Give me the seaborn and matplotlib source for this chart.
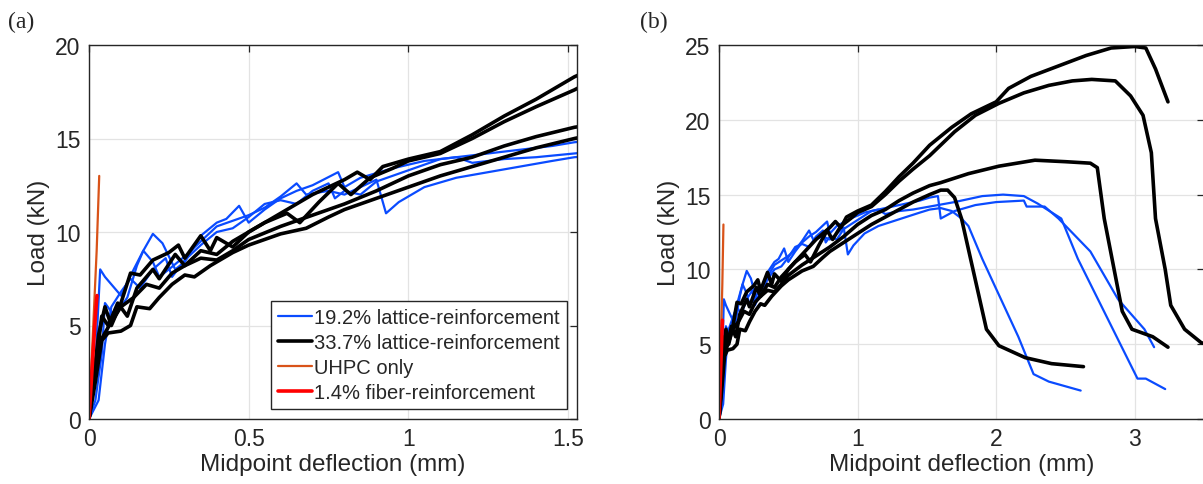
import numpy as np
import pandas as pd
import seaborn as sns
import matplotlib
matplotlib.use('Agg')
import matplotlib.pyplot as plt

# load-deflection curves (x in mm, y in kN)

# 19.2% lattice-reinforcement (3 specimens)
b1_x = [0, 0.02, 0.035, 0.05, 0.1, 0.14, 0.17, 0.2, 0.23, 0.27, 0.3, 0.35, 0.4, 0.43, 0.47, 0.5, 0.55, 0.6, 0.65, 0.7,
        0.78, 0.8, 0.85, 0.95, 1.05, 1.15, 1.25, 1.35, 1.45, 1.52, 1.58, 1.6, 1.7, 1.85, 2.0, 2.2, 2.22, 2.35, 2.45,
        2.68, 2.88, 3.07, 3.14]
b1_y = [0, 3.0, 8.0, 7.6, 6.6, 8.0, 9.0, 9.9, 9.4, 8.0, 8.4, 9.8, 10.5, 10.7, 11.4, 10.5, 11.2, 11.8, 12.2, 12.5,
        13.2, 12.4, 12.9, 13.4, 13.8, 14.0, 14.2, 14.4, 14.6, 14.8, 14.9, 13.4, 13.9, 14.3, 14.5, 14.6, 14.2, 14.2, 13.4,
        11.2, 8.0, 6.0, 4.8]
b2_x = [0, 0.02, 0.04, 0.05, 0.08, 0.12, 0.15, 0.17, 0.2, 0.22, 0.25, 0.3, 0.35, 0.4, 0.45, 0.5, 0.55, 0.6, 0.65, 0.68,
        0.75, 0.8, 0.85, 0.9, 0.93, 0.97, 1.05, 1.15, 1.25, 1.35, 1.45, 1.52, 1.6, 1.68, 1.75, 1.8, 1.9, 2.0, 2.16,
        2.27, 2.38, 2.61]
b2_y = [0, 1.0, 3.5, 6.2, 5.5, 6.5, 8.2, 9.0, 8.4, 7.6, 8.0, 8.7, 9.5, 10.3, 10.6, 10.9, 11.3, 11.9, 12.6, 12.0,
        12.2, 12.0, 12.4, 12.8, 11.0, 11.6, 12.4, 12.9, 13.2, 13.5, 13.8, 14.0, 14.1, 13.9, 13.4, 12.9, 10.7, 8.7, 5.5,
        3.0, 2.5, 1.9]
b3_x = [0, 0.03, 0.05, 0.07, 0.1, 0.13, 0.16, 0.2, 0.24, 0.26, 0.3, 0.35, 0.4, 0.45, 0.5, 0.55, 0.6, 0.65, 0.7, 0.75,
        0.77, 0.8, 0.85, 0.9, 1.0, 1.1, 1.15, 1.2, 1.3, 1.4, 1.52, 1.7, 1.9, 2.05, 2.2, 2.3, 2.47, 2.59, 3.02, 3.08,
        3.22]
b3_y = [0, 1.0, 4.0, 6.0, 6.8, 7.5, 7.0, 8.0, 8.6, 7.6, 8.5, 9.3, 10.0, 10.2, 10.8, 11.5, 11.7, 11.5, 12.2, 12.6,
        11.8, 12.2, 12.0, 12.7, 13.3, 13.9, 14.0, 13.7, 13.9, 14.0, 14.2, 14.5, 14.9, 15.0, 14.9, 14.4, 13.4, 10.7, 2.7,
        2.7, 2.0]

# 33.7% lattice-reinforcement (4 specimens)
k1_x = [0, 0.02, 0.04, 0.06, 0.1, 0.13, 0.15, 0.19, 0.22, 0.26, 0.3, 0.33, 0.38, 0.45, 0.5, 0.6, 0.68, 0.75, 0.8, 0.9,
        1.0, 1.1, 1.2, 1.3, 1.4, 1.52, 1.6, 1.65, 1.7, 1.75, 1.93, 2.02, 2.21, 2.4, 2.63]
k1_y = [0, 2.0, 4.2, 4.6, 4.7, 5.0, 6.0, 5.9, 6.5, 7.2, 7.7, 7.6, 8.2, 8.9, 9.3, 9.9, 10.2, 10.8, 11.2, 11.8,
        12.4, 13.0, 13.5, 14.0, 14.5, 15.0, 15.3, 15.3, 14.8, 13.4, 6.0, 4.9, 4.1, 3.7, 3.5]
k2_x = [0, 0.03, 0.06, 0.1, 0.14, 0.18, 0.22, 0.26, 0.3, 0.35, 0.4, 0.45, 0.5, 0.6, 0.7, 0.8, 0.9, 1.0, 1.1, 1.2,
        1.3, 1.4, 1.52, 1.6, 1.8, 2.02, 2.28, 2.5, 2.68, 2.73, 2.78, 2.91, 2.98, 3.13, 3.24]
k2_y = [0, 4.0, 4.9, 6.0, 6.5, 7.2, 7.0, 7.8, 8.2, 8.6, 8.5, 9.0, 9.6, 10.3, 10.9, 11.5, 12.2, 13.0, 13.6, 14.0,
        14.6, 15.1, 15.6, 15.8, 16.4, 16.9, 17.3, 17.2, 17.1, 16.8, 13.4, 7.2, 6.0, 5.5, 4.8]
k3_x = [0, 0.04, 0.06, 0.09, 0.12, 0.15, 0.2, 0.22, 0.27, 0.3, 0.35, 0.4, 0.45, 0.55, 0.62, 0.66, 0.72, 0.78, 0.82,
        0.88, 0.95, 1.0, 1.1, 1.2, 1.3, 1.4, 1.52, 1.7, 1.85, 2.02, 2.2, 2.38, 2.55, 2.69, 2.86, 2.97, 3.06, 3.12,
        3.15, 3.22, 3.26, 3.36, 3.48, 3.6]
k3_y = [0, 5.5, 5.0, 6.2, 5.5, 7.0, 8.0, 7.5, 8.8, 8.2, 9.0, 8.8, 9.5, 10.5, 11.0, 10.5, 11.6, 12.6, 12.0,
        12.9, 13.4, 13.8, 14.2, 15.0, 15.9, 16.7, 17.6, 19.2, 20.3, 21.1, 21.8, 22.3, 22.6, 22.7, 22.6, 21.6, 20.3, 17.8,
        13.4, 10.0, 7.6, 6.0, 5.1, 4.8]
k4_x = [0, 0.03, 0.05, 0.07, 0.1, 0.13, 0.16, 0.2, 0.25, 0.28, 0.3, 0.35, 0.38, 0.4, 0.45, 0.5, 0.6, 0.7, 0.8, 0.84,
        0.88, 0.92, 1.0, 1.1, 1.2, 1.3, 1.4, 1.52, 1.68, 1.82, 2.0, 2.09, 2.25, 2.45, 2.65, 2.83, 3.0, 3.08, 3.15, 3.24]
k4_y = [0, 4.5, 6.0, 5.0, 6.2, 7.8, 7.7, 8.5, 8.9, 9.3, 8.6, 9.8, 9.0, 9.7, 9.2, 10.0, 11.0, 12.0, 12.8, 13.2,
        12.8, 13.5, 13.9, 14.3, 15.2, 16.2, 17.1, 18.3, 19.5, 20.4, 21.2, 22.1, 22.9, 23.6, 24.3, 24.8, 24.9, 24.8, 23.4,
        21.2]

# UHPC only and 1.4% fiber-reinforcement
uhpc_x = [0, 0.012, 0.024, 0.032]
uhpc_y = [0, 4.5, 9.0, 13.0]
fiber_x = [0, 0.01, 0.02, 0.025]
fiber_y = [0, 2.8, 5.5, 6.6]

legend_labels = ['19.2% lattice-reinforcement', '33.7% lattice-reinforcement', 'UHPC only',
                 '1.4% fiber-reinforcement']

blue = '#0A4BFF'
orange = '#D95319'
red = '#FF0000'

curves = [
    (b1_x, b1_y, blue, 1.6, legend_labels[0]),
    (b2_x, b2_y, blue, 1.6, None),
    (b3_x, b3_y, blue, 1.6, None),
    (k1_x, k1_y, 'black', 2.6, legend_labels[1]),
    (k2_x, k2_y, 'black', 2.6, None),
    (k3_x, k3_y, 'black', 2.6, None),
    (k4_x, k4_y, 'black', 2.6, None),
    (uhpc_x, uhpc_y, orange, 1.6, legend_labels[2]),
    (fiber_x, fiber_y, red, 2.6, legend_labels[3]),
]

sns.set_style('whitegrid')
plt.rcParams['font.family'] = ['Liberation Sans', 'DejaVu Sans']

fig = plt.figure(figsize=(12.03, 4.85), dpi=100)
ax_a = fig.add_axes([89 / 1203, 65 / 485, 488 / 1203, 374 / 485])
ax_b = fig.add_axes([719 / 1203, 65 / 485, 485 / 1203, 374 / 485])


def draw(ax):
    for x, y, c, lw, lab in curves:
        d = pd.DataFrame({'x': x, 'y': y})
        sns.lineplot(data=d, x='x', y='y', sort=False, estimator=None, color=c, lw=lw,
                     label=lab, legend=False, ax=ax)
    ax.grid(True, color='#e3e3e3', lw=0.9)
    for s in ax.spines.values():
        s.set_color('#262626')
        s.set_linewidth(1.0)
    ax.tick_params(direction='in', length=5, width=0.9, top=True, right=True,
                   labelsize=16.5, colors='#262626', pad=6)
    ax.set_xlabel('Midpoint deflection (mm)', fontsize=17.5, color='#262626', labelpad=2)
    ax.set_ylabel('Load (kN)', fontsize=17.5, color='#262626', labelpad=4)


draw(ax_a)
ax_a.set_xlim(0, 1.528)
ax_a.set_ylim(0, 20)
ax_a.set_xticks([0, 0.5, 1, 1.5])
ax_a.set_xticklabels(['0', '0.5', '1', '1.5'])
ax_a.set_yticks([0, 5, 10, 15, 20])
ax_a.legend(loc='lower right', fontsize=14.5, frameon=True, fancybox=False, edgecolor='#262626',
            framealpha=1, handlelength=1.7, handletextpad=0.1, labelspacing=0.3,
            borderpad=0.35, borderaxespad=0.5)

draw(ax_b)
ax_b.set_xlim(0, 3.5)
ax_b.set_ylim(0, 25)
ax_b.set_xticks([0, 1, 2, 3])
ax_b.set_yticks([0, 5, 10, 15, 20, 25])
# the right edge of panel (b) is cut by the image border
ax_b.spines['right'].set_visible(False)

fig.text(8 / 1203, 1 - 22 / 485, '(a)', fontsize=17, family='Liberation Serif', va='center')
fig.text(640 / 1203, 1 - 22 / 485, '(b)', fontsize=17, family='Liberation Serif', va='center')

fig.savefig('out.png', dpi=100)
